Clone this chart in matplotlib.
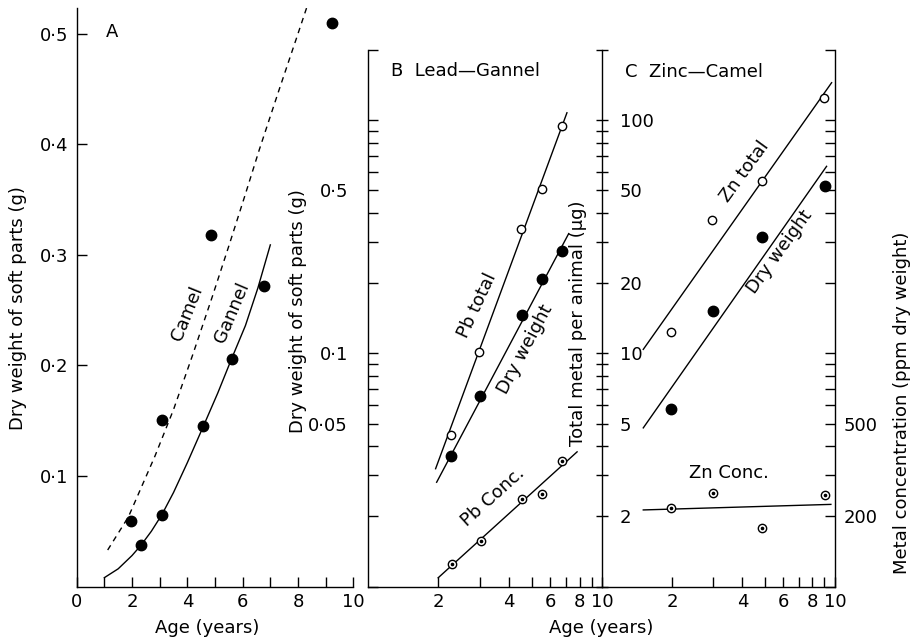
import numpy as np
import matplotlib
matplotlib.use("Agg")
import matplotlib.pyplot as plt
from matplotlib.ticker import LogLocator, NullFormatter

plt.rcParams['font.family'] = ['DejaVu Sans']
plt.rcParams['font.size'] = 13

# ---- panel A: dry weight vs age (linear) ----
gannel_age = [2.33, 3.08, 4.58, 5.6, 6.78]
gannel_wt = [0.0375, 0.065, 0.145, 0.206, 0.272]
camel_age = [1.98, 3.07, 4.86, 9.22]
camel_wt = [0.059, 0.151, 0.3175, 0.51]

gannel_curve_age = [1.0, 1.5, 2.0, 2.33, 2.7, 3.08, 3.5, 4.0, 4.58, 5.1, 5.6, 6.1, 6.55, 7.0]
gannel_curve_wt = [0.008, 0.016, 0.028, 0.0375, 0.050, 0.065, 0.085, 0.112, 0.145, 0.175, 0.206, 0.236, 0.270, 0.309]
camel_curve_age = [1.12, 1.87, 2.83, 3.5, 4.2, 4.9, 5.5, 6.1, 6.6, 7.3, 8.0, 8.32]
camel_curve_wt = [0.033, 0.063, 0.118, 0.160, 0.210, 0.262, 0.308, 0.355, 0.395, 0.448, 0.50, 0.524]

# ---- panel B: lead, gannel (log-log) ----
pb_age = [2.27, 2.98, 4.50, 5.53, 6.73]
pb_total_ug = [4.45, 10.1, 34.2, 50.7, 94.2]
gdry_age = [2.27, 3.02, 4.53, 5.53, 6.71]
gdry_g = [0.0363, 0.0655, 0.146, 0.208, 0.275]
pbc_age = [2.29, 3.05, 4.56, 5.53, 6.73]
pbc_ppm = [125, 156, 237, 250, 347]

pb_total_fit_age = [1.95, 7.07]
pb_total_fit_ug = [3.2, 107.6]
gdry_fit_age = [1.97, 7.19]
gdry_fit_g = [0.028, 0.326]
pbc_fit_age = [2.0, 7.81]
pbc_fit_ppm = [109, 378]

# ---- panel C: zinc, camel (log-log) ----
zn_age = [1.97, 2.95, 4.84, 8.99]
zn_total_ug = [12.4, 37.4, 55.0, 124.8]
cdry_age = [1.97, 3.0, 4.84, 9.02]
cdry_g = [0.058, 0.152, 0.315, 0.52]
znc_age = [1.97, 3.0, 4.87, 9.06]
znc_ppm = [217, 252, 178, 248]

zn_total_fit_age = [1.50, 9.67]
zn_total_fit_ug = [10.4, 144.8]
cdry_fit_age = [1.50, 9.2]
cdry_fit_g = [0.0479, 0.634]
znc_fit_age = [1.50, 9.6]
znc_fit_ppm = [213, 225]

age_ticks = [2, 4, 6, 8, 10]
age_labels = ['2', '4', '6', '8', '10']

W, H = 913, 641
fig = plt.figure(figsize=(W / 100, H / 100), dpi=100)


def box(x0, x1, y0, y1):
    # pixel edges -> figure rect
    return [x0 / W, 1 - y1 / H, (x1 - x0) / W, (y1 - y0) / H]


LW = 1.0
dot = dict(marker='o', color='k', ms=7.5, ls='none', zorder=4)
ring = dict(marker='o', mfc='white', mec='k', mew=1.0, ms=6, ls='none', zorder=4)
centre = dict(marker='o', color='k', ms=1.6, ls='none', zorder=5)


def conc(ax, x, y):
    ax.plot(x, y, **ring)
    ax.plot(x, y, **centre)


def hide(ax, *names):
    for n in names:
        ax.spines[n].set_visible(False)


# ================= A =================
axA = fig.add_axes(box(76.7, 353.3, 8.3, 586.5))
axA.plot(gannel_curve_age, gannel_curve_wt, color='k', lw=LW)
axA.plot(camel_curve_age, camel_curve_wt, color='k', lw=LW, ls=(0, (4, 3.5)))
axA.plot(gannel_age, gannel_wt, **dot)
axA.plot(camel_age, camel_wt, **dot)
axA.set_xlim(0, 10)
axA.set_ylim(0, 0.523)
axA.set_xticks([0, 2, 4, 6, 8, 10], labels=['0', '2', '4', '6', '8', '10'])
axA.set_xticks([1, 3, 5, 7, 9], minor=True)
axA.set_yticks([0.1, 0.2, 0.3, 0.4, 0.5], labels=['0·1', '0·2', '0·3', '0·4', '0·5'])
hide(axA, 'top', 'right')
axA.tick_params(which='both', direction='in', length=7, width=1)
axA.tick_params(axis='x', pad=5)
axA.tick_params(axis='y', pad=6)
axA.text(1.26, 0.502, 'A', ha='center', va='center')
axA.text(3.99, 0.247, 'Camel', rotation=68, ha='center', va='center')
axA.text(5.61, 0.248, 'Gannel', rotation=67, ha='center', va='center')

# ================= B =================
axB = fig.add_axes(box(367.5, 602.3, 50, 586.5))
axB.set_xscale('log')
axB.set_yscale('log')
axB.set_xlim(1, 10)
axB.set_ylim(0.01, 2)
axBt = axB.twinx()   # total metal (ug), spine shared with C
axBt.set_yscale('log')
axBt.set_ylim(1, 200)
axBr = axB.twinx()   # concentration (ppm), hidden
axBr.set_yscale('log')
axBr.set_ylim(100, 20000)
axBr.axis('off')

axBt.plot(pb_total_fit_age, pb_total_fit_ug, color='k', lw=LW)
axBt.plot(pb_age, pb_total_ug, **ring)
axB.plot(gdry_fit_age, gdry_fit_g, color='k', lw=LW)
axB.plot(gdry_age, gdry_g, **dot)
axBr.plot(pbc_fit_age, pbc_fit_ppm, color='k', lw=LW)
conc(axBr, pbc_age, pbc_ppm)

axB.set_xticks(age_ticks, labels=age_labels)
axB.set_xticks([3, 5, 7, 9], minor=True)
axB.xaxis.set_minor_formatter(NullFormatter())
axB.set_yticks([0.05, 0.1, 0.5], labels=['0·05', '0·1', '0·5'])
axB.yaxis.set_minor_locator(LogLocator(base=10, subs=np.arange(1, 10), numticks=20))
axB.yaxis.set_minor_formatter(NullFormatter())
hide(axB, 'top', 'right')
axB.tick_params(which='both', direction='in', length=7, width=1)
axB.tick_params(axis='x', pad=5)
axB.tick_params(axis='y', pad=14)

axBt.set_yticks([2, 5, 10, 20, 50, 100], labels=['2', '5', '10', '20', '50', '100'])
axBt.yaxis.set_minor_locator(LogLocator(base=10, subs=np.arange(1, 10), numticks=20))
axBt.yaxis.set_minor_formatter(NullFormatter())
hide(axBt, 'top', 'left', 'bottom')
axBt.tick_params(which='both', direction='inout', length=9, width=1, pad=8)

axB.text(1.257, 1.62, 'B  Lead—Gannel', ha='left', va='center')
axB.text(2.94, 0.161, 'Pb total', rotation=65, ha='center', va='center')
axB.text(4.68, 0.104, 'Dry weight', rotation=62, ha='center', va='center')
axB.text(3.41, 0.0241, 'Pb Conc.', rotation=42, ha='center', va='center')

# ================= C =================
axC = fig.add_axes(box(602.3, 835, 50, 586.5))
axC.set_xscale('log')
axC.set_yscale('log')
axC.set_xlim(1, 10)
axC.set_ylim(0.01, 2)
axCt = axC.twinx()   # total metal (ug), hidden
axCt.set_yscale('log')
axCt.set_ylim(1, 200)
axCt.axis('off')
axCr = axC.twinx()   # concentration (ppm), right spine
axCr.set_yscale('log')
axCr.set_ylim(100, 20000)

axCt.plot(zn_total_fit_age, zn_total_fit_ug, color='k', lw=LW)
axCt.plot(zn_age, zn_total_ug, **ring)
axC.plot(cdry_fit_age, cdry_fit_g, color='k', lw=LW)
axC.plot(cdry_age, cdry_g, **dot)
axCr.plot(znc_fit_age, znc_fit_ppm, color='k', lw=LW)
conc(axCr, znc_age, znc_ppm)

axC.set_xticks(age_ticks, labels=age_labels)
axC.set_xticks([3, 5, 7, 9], minor=True)
axC.xaxis.set_minor_formatter(NullFormatter())
axC.tick_params(axis='y', which='both', left=False, labelleft=False)
axC.tick_params(axis='x', which='both', direction='in', length=7, width=1, pad=5)
hide(axC, 'top', 'left', 'right')

axCr.set_yticks([200, 500], labels=['200', '500'])
axCr.yaxis.set_minor_locator(LogLocator(base=10, subs=np.arange(1, 10), numticks=20))
axCr.yaxis.set_minor_formatter(NullFormatter())
hide(axCr, 'top', 'left', 'bottom')
axCr.tick_params(which='both', direction='in', length=7, width=1, pad=6)

axC.text(1.252, 1.61, 'C  Zinc—Camel', ha='left', va='center')
axC.text(4.10, 0.602, 'Zn total', rotation=54, ha='center', va='center')
axC.text(5.80, 0.2726, 'Dry weight', rotation=54, ha='center', va='center')
axC.text(3.50, 0.0308, 'Zn Conc.', ha='center', va='center')

# no axes background, so the shared middle spine and its labels stay visible
for ax in (axA, axB, axBt, axBr, axC, axCt, axCr):
    ax.patch.set_visible(False)
    for s in ax.spines.values():
        s.set_linewidth(1.0)

# ---- axis titles ----
fig.text(18 / W, 1 - 308 / H, 'Dry weight of soft parts (g)', rotation=90, ha='center', va='center')
fig.text(298 / W, 1 - 311 / H, 'Dry weight of soft parts (g)', rotation=90, ha='center', va='center')
fig.text(578 / W, 1 - 323 / H, 'Total metal per animal (µg)', rotation=90, ha='center', va='center')
fig.text(902 / W, 1 - 403 / H, 'Metal concentration (ppm dry weight)', rotation=90, ha='center', va='center')
fig.text(207 / W, 1 - 628 / H, 'Age (years)', ha='center', va='center')
fig.text(601 / W, 1 - 628 / H, 'Age (years)', ha='center', va='center')

fig.savefig('out.png', dpi=100)
